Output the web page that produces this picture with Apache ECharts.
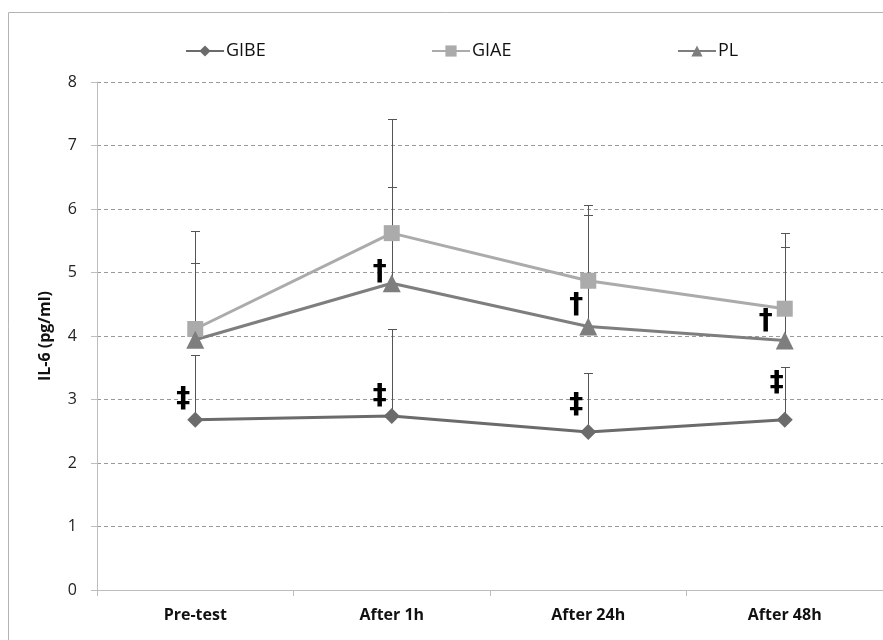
<!DOCTYPE html>
<html>
<head>
<meta charset="utf-8">
<script src="https://cdn.jsdelivr.net/npm/echarts@6/dist/echarts.min.js"></script>
<style>html,body{margin:0;padding:0;background:#fff}#c{width:883px;height:640px}</style>
</head>
<body>
<div id="c"></div>
<script>
const categories = ['Pre-test', 'After 1h', 'After 24h', 'After 48h'];
const yTicks = [0, 1, 2, 3, 4, 5, 6, 7, 8];
const gibe = [2.68, 2.74, 2.49, 2.68];
const giae = [4.11, 5.62, 4.87, 4.43];
const pl = [3.94, 4.83, 4.15, 3.93];
const gibeUpper = [3.70, 4.11, 3.42, 3.51];
const giaeUpper = [5.65, 7.42, 6.06, 5.62];
const plUpper = [5.15, 6.35, 5.90, 5.40];
const annotations = [
  { cat: 0, y: 3.0, text: '‡' },
  { cat: 1, y: 3.05, text: '‡' },
  { cat: 2, y: 2.9, text: '‡' },
  { cat: 3, y: 3.25, text: '‡' },
  { cat: 1, y: 5.0, text: '†' },
  { cat: 2, y: 4.47, text: '†' },
  { cat: 3, y: 4.22, text: '†' }
];

const font = '"Open Sans", sans-serif';
const chart = echarts.init(document.getElementById('c'), null, { renderer: 'canvas' });

function errSeries(name, means, uppers) {
  return {
    type: 'custom', name: name + '-err', silent: true, z: 1,
    data: means.map((m, i) => [i, m, uppers[i]]),
    renderItem: function (params, api) {
      const lo = api.coord([api.value(0), api.value(1)]);
      const hi = api.coord([api.value(0), api.value(2)]);
      const x = Math.round(lo[0]) + 0.5;
      const yt = Math.round(hi[1]) + 0.5;
      return {
        type: 'group', children: [
          { type: 'line', shape: { x1: x, y1: lo[1], x2: x, y2: yt }, style: { stroke: '#555', lineWidth: 1 } },
          { type: 'line', shape: { x1: x - 4.5, y1: yt, x2: x + 4.5, y2: yt }, style: { stroke: '#555', lineWidth: 1 } }
        ]
      };
    }
  };
}

const legendText = { fontFamily: font, fontSize: 18, color: '#111', padding: [0, 0, 0, -3] };
const option = {
  animation: false,
  backgroundColor: '#fff',
  graphic: [{
    type: 'rect', shape: { x: 8.5, y: 12.5, width: 900, height: 700 },
    style: { fill: 'none', stroke: '#b4b4b4', lineWidth: 1 }, silent: true, z: -10
  }],
  legend: [
    { data: ['GIBE'], left: 180, top: 37, itemWidth: 38, itemHeight: 14, itemGap: 0, textStyle: legendText },
    { data: ['GIAE'], left: 426, top: 37, itemWidth: 38, itemHeight: 14, itemGap: 0, textStyle: legendText },
    { data: ['PL'], left: 672, top: 37, itemWidth: 38, itemHeight: 14, itemGap: 0, textStyle: legendText }
  ],
  grid: { left: 97, right: 0, top: 82, bottom: 50, containLabel: false },
  xAxis: {
    type: 'category', data: categories, boundaryGap: true,
    axisLine: { lineStyle: { color: '#bdbdbd', width: 1 } },
    axisTick: { show: true, length: 6, interval: 0, lineStyle: { color: '#bdbdbd' } },
    axisLabel: { fontFamily: font, fontWeight: 'bold', fontSize: 16, color: '#111', margin: 17 }
  },
  yAxis: {
    type: 'value', min: 0, max: 8, interval: 1,
    name: 'IL-6 (pg/ml)', nameLocation: 'middle', nameGap: 44, nameRotate: 90,
    nameTextStyle: { fontFamily: font, fontWeight: 'bold', fontSize: 16, color: '#111' },
    axisLine: { show: true, lineStyle: { color: '#bdbdbd' } },
    axisTick: { show: true, length: 6, lineStyle: { color: '#bdbdbd' } },
    axisLabel: { fontFamily: font, fontSize: 16, color: '#222', margin: 20,
      formatter: v => yTicks.includes(v) ? String(v) : '' },
    splitLine: { show: true, lineStyle: { color: '#9a9a9a', type: [4, 3], width: 1 } }
  },
  series: [
    errSeries('GIBE', gibe, gibeUpper),
    errSeries('GIAE', giae, giaeUpper),
    errSeries('PL', pl, plUpper),
    { name: 'GIBE', type: 'line', data: gibe, symbol: 'diamond', symbolSize: 16, z: 3,
      itemStyle: { color: '#6b6b6b' }, lineStyle: { color: '#6b6b6b', width: 3 } },
    { name: 'GIAE', type: 'line', data: giae, symbol: 'rect', symbolSize: 16, z: 3,
      itemStyle: { color: '#ababab' }, lineStyle: { color: '#ababab', width: 3 } },
    { name: 'PL', type: 'line', data: pl, symbol: 'triangle', symbolSize: 18, z: 3,
      itemStyle: { color: '#7e7e7e' }, lineStyle: { color: '#7e7e7e', width: 3 } },
    { type: 'custom', name: 'marks', silent: true, z: 5,
      data: annotations.map(a => [a.cat, a.y, a.text]),
      renderItem: function (params, api) {
        const c = api.coord([api.value(0), api.value(1)]);
        const a = annotations[params.dataIndex];
        const dx = (a.text === '†' && a.cat === 3) ? -19 : (a.cat === 3 ? -8 : -12);
        return { type: 'text', x: c[0] + dx, y: c[1],
          style: { text: a.text, fill: '#000', fontSize: 28, fontWeight: 'bold',
            fontFamily: '"DejaVu Sans", sans-serif', align: 'center', verticalAlign: 'middle' } };
      } }
  ]
};
chart.setOption(option);
</script>
</body>
</html>
